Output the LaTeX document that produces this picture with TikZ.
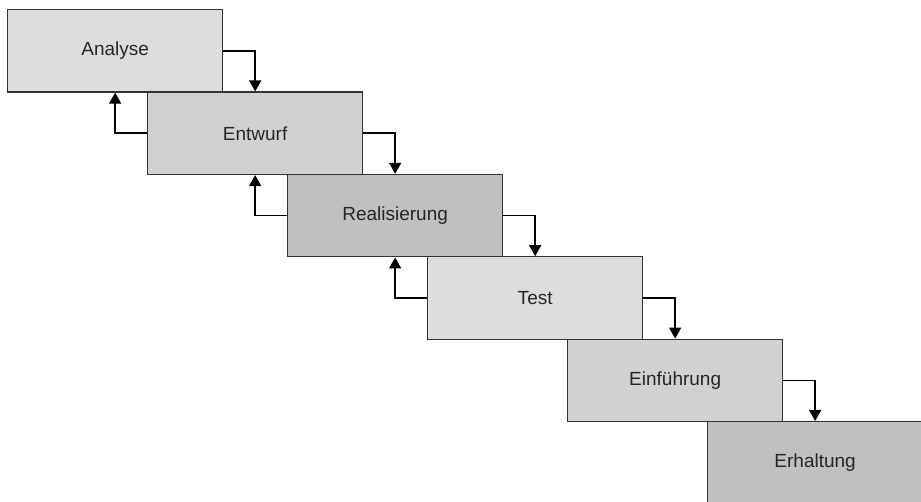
\documentclass[tikz,border=0pt]{standalone}
\usepackage{fontspec}
\setmainfont{Liberation Sans}
\usetikzlibrary{arrows.meta}
\definecolor{phaseA}{RGB}{220,221,223}
\definecolor{phaseB}{RGB}{208,209,211}
\definecolor{phaseC}{RGB}{192,192,194}
\definecolor{edge}{RGB}{51,51,51}
\tikzset{
  phase/.style={draw=edge, line width=1.3pt, anchor=north west, inner sep=0pt,
    minimum width=215pt, minimum height=82.4pt,
    font=\fontsize{19}{22}\selectfont, text=black!85},
  flow/.style={line width=1.6pt, -{Triangle[length=11pt,width=12pt]}}
}
\begin{document}
\begin{tikzpicture}[x=1pt,y=-1pt]
  \useasboundingbox (0,0) rectangle (921,502);
  \begin{scope}
    \clip (0,0) rectangle (921,502);
    \node[phase, fill=phaseA] (p1) at (7,9)       {Analyse};
    \node[phase, fill=phaseB] (p2) at (147,91.4)  {Entwurf};
    \node[phase, fill=phaseC] (p3) at (287,173.8) {Realisierung};
    \node[phase, fill=phaseA] (p4) at (427,256.2) {Test};
    \node[phase, fill=phaseB] (p5) at (567,338.6) {Einführung};
    \node[phase, fill=phaseC] (p6) at (707,421)   {Erhaltung};
  \end{scope}
  % forward steps
  \draw[flow] (p1.east) -| (p2.north);
  \draw[flow] (p2.east) -| (p3.north);
  \draw[flow] (p3.east) -| (p4.north);
  \draw[flow] (p4.east) -| (p5.north);
  \draw[flow] (p5.east) -| (p6.north);
  % feedback to the previous phase
  \draw[flow] (p2.west) -| (p1.south);
  \draw[flow] (p3.west) -| (p2.south);
  \draw[flow] (p4.west) -| (p3.south);
\end{tikzpicture}
\end{document}
